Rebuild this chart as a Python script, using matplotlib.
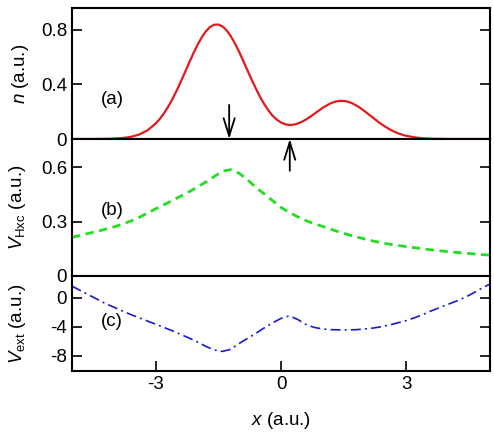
import numpy as np
import matplotlib
matplotlib.use("Agg")
import matplotlib.pyplot as plt

plt.rcParams['font.family'] = ['Liberation Sans', 'DejaVu Sans']
plt.rcParams['mathtext.fontset'] = 'custom'
plt.rcParams['mathtext.rm'] = 'Liberation Sans'
plt.rcParams['mathtext.it'] = 'Liberation Sans:italic'
plt.rcParams['axes.unicode_minus'] = False

# (a) density n(x) (finer steps where it bends)
n_x = [-5.0, -4.5, -4.2, -4.0, -3.8, -3.6, -3.4, -3.2,
       -3.0, -2.9, -2.8, -2.7, -2.6, -2.5, -2.4, -2.3, -2.2, -2.1,
       -2.0, -1.9, -1.8, -1.7, -1.6, -1.5, -1.4, -1.3, -1.2, -1.1,
       -1.0, -0.9, -0.8, -0.7, -0.6, -0.5, -0.4, -0.3, -0.2, -0.1,
       0.0, 0.1, 0.2, 0.3, 0.4, 0.5, 0.6, 0.7, 0.8, 0.9,
       1.0, 1.1, 1.2, 1.3, 1.4, 1.5, 1.6, 1.7, 1.8, 1.9,
       2.0, 2.1, 2.2, 2.3, 2.4, 2.5, 2.6, 2.7, 2.8, 2.9,
       3.0, 3.2, 3.4, 3.6, 3.8, 4.0, 4.5, 5.0]
n_vals = [0.000, 0.000, 0.001, 0.003, 0.007, 0.015, 0.032, 0.062,
          0.113, 0.147, 0.188, 0.236, 0.291, 0.352, 0.418, 0.487, 0.557, 0.625,
          0.688, 0.743, 0.788, 0.820, 0.837, 0.839, 0.825, 0.796, 0.753, 0.700,
          0.638, 0.571, 0.501, 0.434, 0.369, 0.308, 0.255, 0.209, 0.170, 0.142,
          0.121, 0.108, 0.103, 0.105, 0.113, 0.126, 0.143, 0.163, 0.185, 0.207,
          0.229, 0.247, 0.263, 0.274, 0.279, 0.279, 0.274, 0.262, 0.246, 0.227,
          0.204, 0.180, 0.156, 0.132, 0.109, 0.089, 0.071, 0.055, 0.042, 0.031,
          0.023, 0.012, 0.005, 0.002, 0.001, 0.000, 0.000, 0.000]

# (b) Hartree-exchange-correlation potential, step 0.2
x = np.linspace(-5, 5, 51)
vhxc_vals = [0.213, 0.224, 0.235, 0.246, 0.258, 0.270, 0.285, 0.302, 0.322, 0.346,
             0.370, 0.393, 0.416, 0.440, 0.464, 0.490, 0.518, 0.548, 0.578, 0.586,
             0.566, 0.530, 0.488, 0.452, 0.415, 0.378, 0.350, 0.326, 0.305, 0.288,
             0.273, 0.257, 0.242, 0.228, 0.216, 0.204, 0.193, 0.183, 0.175, 0.168,
             0.162, 0.156, 0.150, 0.144, 0.139, 0.134, 0.130, 0.126, 0.122, 0.118,
             0.115]

# (c) external potential, step 0.2
vext_vals = [1.6, 1.0, 0.4, -0.2, -0.8, -1.3, -1.8, -2.3, -2.75, -3.2,
             -3.65, -4.1, -4.55, -5.05, -5.55, -6.1, -6.7, -7.2, -7.4, -7.1,
             -6.3, -5.6, -4.9, -4.15, -3.45, -2.85, -2.5, -3.0, -3.7, -4.1,
             -4.3, -4.4, -4.43, -4.43, -4.4, -4.3, -4.18, -4.0, -3.75, -3.45,
             -3.15, -2.75, -2.3, -1.8, -1.35, -0.9, -0.45, 0.05, 0.65, 1.3,
             1.9]

fig = plt.figure(figsize=(4.94, 4.32), dpi=100)
L, R = 72 / 494, 490 / 494
def frac(top, bot):
    return [L, 1 - bot / 432, R - L, (bot - top) / 432]

ax_a = fig.add_axes(frac(8, 139))
ax_b = fig.add_axes(frac(139, 276))
ax_c = fig.add_axes(frac(276, 371))

ax_a.plot(n_x, n_vals, color='#e31a1c', lw=1.6)
ax_b.plot(x, vhxc_vals, color='#22dd22', lw=2.0, ls=(0, (3, 2)))
ax_c.plot(x, vext_vals, color='#1a1acc', lw=1.2, ls=(0, (6, 2.5, 1.2, 2.5)))

ax_a.set_ylim(0, 0.96)
ax_a.set_yticks([0, 0.4, 0.8])
ax_a.set_yticklabels(['0', '0.4', '0.8'])
ax_b.set_ylim(0, 0.755)
ax_b.set_yticks([0, 0.3, 0.6])
ax_b.set_yticklabels(['0', '0.3', '0.6'])
ax_c.set_ylim(-10.1, 3.0)
ax_c.set_yticks([0, -4, -8])
ax_c.set_xticks([-3, 0, 3])

for ax in (ax_a, ax_b, ax_c):
    ax.set_xlim(-5, 5)
    for s in ax.spines.values():
        s.set_linewidth(1.5)
    ax.tick_params(direction='in', length=7, width=1.2, labelsize=13.5,
                   right=True, top=False)
for ax in (ax_a, ax_b):
    ax.tick_params(axis='x', bottom=False, labelbottom=False)

ax_a.text(0.096, 0.30, '(a)', transform=ax_a.transAxes, fontsize=13.5, ha='center', va='center')
ax_b.text(0.096, 0.48, '(b)', transform=ax_b.transAxes, fontsize=13.5, ha='center', va='center')
ax_c.text(0.096, 0.52, '(c)', transform=ax_c.transAxes, fontsize=13.5, ha='center', va='center')

ax_a.set_ylabel(r'$n$ (a.u.)', fontsize=13.5)
ax_b.set_ylabel(r'$V_{\rm Hxc}$ (a.u.)', fontsize=13.5)
ax_c.set_ylabel(r'$V_{\rm ext}$ (a.u.)', fontsize=13.5)
ax_a.yaxis.set_label_coords(-0.098, 0.5)
ax_b.yaxis.set_label_coords(-0.105, 0.5)
ax_c.yaxis.set_label_coords(-0.105, 0.5)
ax_c.set_xlabel(r'$x$ (a.u.)', fontsize=13.5, labelpad=12)

arrow = dict(arrowstyle='->,head_length=0.8,head_width=0.25', lw=1.3, color='k',
             mutation_scale=16, shrinkA=0, shrinkB=0)
ax_a.annotate('', xy=(-1.24, 0.0), xytext=(-1.24, 0.25), arrowprops=arrow)
ax_b.annotate('', xy=(0.21, 0.755), xytext=(0.21, 0.58), arrowprops=arrow,
              annotation_clip=False)

fig.savefig('out.png', dpi=100)
